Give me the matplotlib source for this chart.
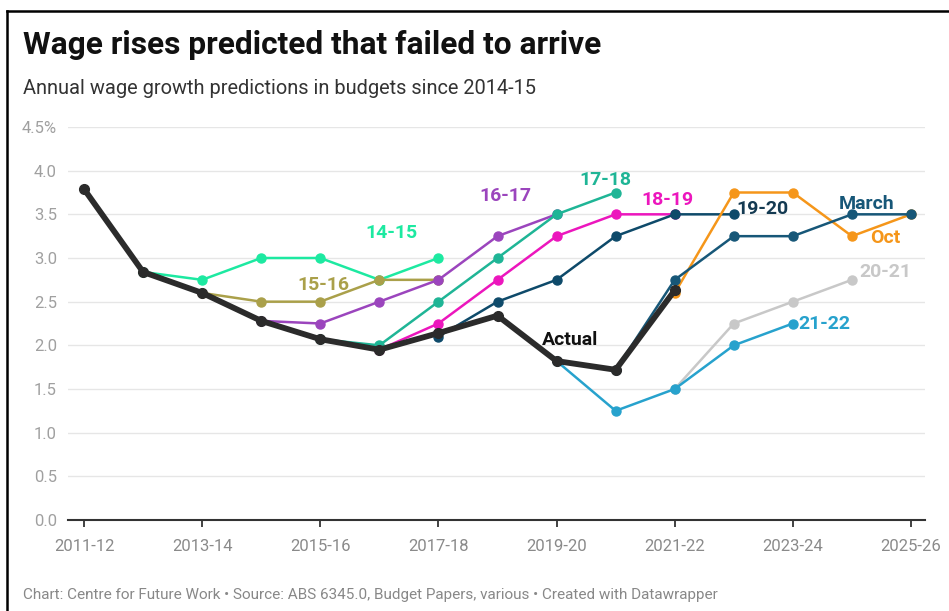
import matplotlib
matplotlib.use("Agg")
import matplotlib.pyplot as plt
from matplotlib.lines import Line2D

plt.rcParams['font.family'] = ['Roboto', 'DejaVu Sans']

# financial years on the x axis (index 0 = 2011-12)
years = ['2011-12', '2012-13', '2013-14', '2014-15', '2015-16', '2016-17', '2017-18',
         '2018-19', '2019-20', '2020-21', '2021-22', '2022-23', '2023-24', '2024-25', '2025-26']
tick_idx = [0, 2, 4, 6, 8, 10, 12, 14]

# actual wage growth (%)
actual_x = [0, 1, 2, 3, 4, 5, 6, 7, 8, 9, 10]
actual_y = [3.79, 2.84, 2.6, 2.28, 2.07, 1.95, 2.14, 2.34, 1.82, 1.72, 2.63]

# budget forecasts, one pair of lists per budget
b1415_x = [1, 2, 3, 4, 5, 6]
b1415_y = [2.84, 2.75, 3.0, 3.0, 2.75, 3.0]
b1516_x = [2, 3, 4, 5, 6]
b1516_y = [2.6, 2.5, 2.5, 2.75, 2.75]
b1617_x = [3, 4, 5, 6, 7, 8]
b1617_y = [2.28, 2.25, 2.5, 2.75, 3.25, 3.5]
b1718_x = [4, 5, 6, 7, 8, 9]
b1718_y = [2.07, 2.0, 2.5, 3.0, 3.5, 3.75]
b1819_x = [5, 6, 7, 8, 9, 10]
b1819_y = [1.95, 2.25, 2.75, 3.25, 3.5, 3.5]
b1920_x = [6, 7, 8, 9, 10, 11]
b1920_y = [2.1, 2.5, 2.75, 3.25, 3.5, 3.5]
b2021_x = [10, 11, 12, 13]
b2021_y = [1.5, 2.25, 2.5, 2.75]
b2122_x = [8, 9, 10, 11, 12]
b2122_y = [1.82, 1.25, 1.5, 2.0, 2.25]
march_x = [9, 10, 11, 12, 13, 14]
march_y = [1.72, 2.75, 3.25, 3.25, 3.5, 3.5]
oct_x = [10, 11, 12, 13, 14]
oct_y = [2.6, 3.75, 3.75, 3.25, 3.5]

c1415 = '#1de9a1'
c1516 = '#aaa04a'
c1617 = '#9b45bd'
c1718 = '#1fb596'
c1819 = '#ec16bd'
c1920 = '#0e4a6a'
c2021 = '#c8c8c8'
c2122 = '#27a2cd'
cmarch = '#175778'
coct = '#f5961a'

fig = plt.figure(figsize=(9.49, 6.11), dpi=100)
ax = fig.add_axes([68 / 949, 1 - 520 / 611, 857 / 949, 393 / 611])

series = [
    (b2021_x, b2021_y, c2021),
    (b2122_x, b2122_y, c2122),
    (b1415_x, b1415_y, c1415),
    (b1516_x, b1516_y, c1516),
    (b1617_x, b1617_y, c1617),
    (b1718_x, b1718_y, c1718),
    (b1819_x, b1819_y, c1819),
    (b1920_x, b1920_y, c1920),
    (oct_x, oct_y, coct),
    (march_x, march_y, cmarch),
]
for xs, ys, col in series:
    ax.plot(xs, ys, color=col, lw=1.8, marker='o', ms=6.5, mec=col, mfc=col,
            zorder=3, clip_on=False)

ax.plot(actual_x, actual_y, color='#2b2b2b', lw=4.2, marker='o', ms=7,
        solid_joinstyle='round', zorder=5, clip_on=False)

# series labels
lab = dict(fontsize=14, fontweight='bold', va='center', zorder=6)
ax.text(5.21, 3.29, '14-15', color=c1415, ha='center', **lab)
ax.text(4.05, 2.69, '15-16', color=c1516, ha='center', **lab)
ax.text(7.13, 3.71, '16-17', color=c1617, ha='center', **lab)
ax.text(8.82, 3.89, '17-18', color=c1718, ha='center', **lab)
ax.text(9.87, 3.66, '18-19', color=c1819, ha='center', **lab)
ax.text(11.05, 3.56, '19-20', color='#143a52', ha='left', **lab)
ax.text(13.25, 3.62, 'March', color=cmarch, ha='center', **lab)
ax.text(13.57, 3.23, 'Oct', color=coct, ha='center', **lab)
ax.text(13.13, 2.84, '20-21', color=c2021, ha='left', **lab)
ax.text(12.1, 2.24, '21-22', color=c2122, ha='left', **lab)
ax.text(8.23, 2.06, 'Actual', color='#111111', ha='center', **lab)

ax.set_xlim(-16 / 59.07, 14 + 14 / 59.07)
ax.set_ylim(0, 4.5)

yt = [0, 0.5, 1, 1.5, 2, 2.5, 3, 3.5, 4, 4.5]
ax.set_yticks(yt)
ax.set_yticklabels([f'{v:.1f}' for v in yt[:-1]] + ['4.5%'])
ax.set_xticks(tick_idx)
ax.set_xticklabels([years[i] for i in tick_idx])

ax.grid(axis='y', color='#e6e6e6', lw=1)
ax.set_axisbelow(True)
for s in ['top', 'right', 'left']:
    ax.spines[s].set_visible(False)
ax.spines['bottom'].set_color('#333333')
ax.spines['bottom'].set_linewidth(1.5)
ax.spines['bottom'].set_zorder(4)
ax.tick_params(axis='y', length=0, pad=8, labelsize=12, labelcolor='#a0a0a0')
ax.tick_params(axis='x', length=5, width=1.3, color='#333333', pad=9,
               labelsize=12, labelcolor='#8a8a8a')

fig.text(23 / 949, 1 - 45 / 611, 'Wage rises predicted that failed to arrive',
         fontsize=22.8, fontweight='bold', color='#111111', va='center')
fig.text(23 / 949, 1 - 88 / 611, 'Annual wage growth predictions in budgets since 2014-15',
         fontsize=14.4, color='#333333', va='center')
fig.text(23 / 949, 1 - 595 / 611,
         'Chart: Centre for Future Work \u2022 Source: ABS 6345.0, Budget Papers, various \u2022 Created with Datawrapper',
         fontsize=11, color='#888888', va='center')

# frame lines along the top and left edge
fig.add_artist(Line2D([7 / 949, 1], [1 - 11 / 611, 1 - 11 / 611], color='black', lw=1.8))
fig.add_artist(Line2D([7 / 949, 7 / 949], [0, 1 - 11 / 611], color='black', lw=1.8))

fig.savefig('out.png', dpi=100)
